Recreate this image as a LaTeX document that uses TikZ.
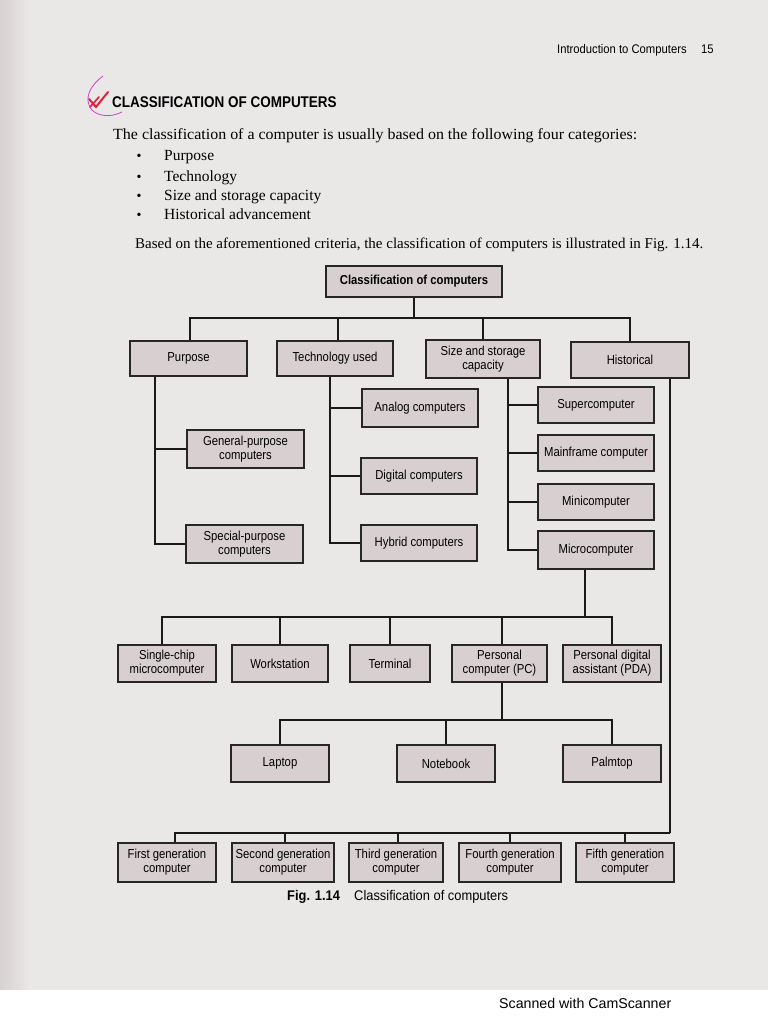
\documentclass[tikz,border=0pt]{standalone}
\usepackage{fontspec}
\setmainfont{Liberation Serif}
\newfontfamily\introfont[FakeStretch=1.03]{Liberation Serif}
\newfontfamily\boxfont[FakeStretch=0.87]{Liberation Sans}
\newfontfamily\hdrfont[FakeStretch=0.9]{Liberation Sans}
\newfontfamily\capfont[FakeStretch=0.92]{Liberation Sans}
\newfontfamily\plainsans{Liberation Sans}
\definecolor{pagebg}{HTML}{EAE7E7}
\definecolor{edgebg}{HTML}{D8D2D2}
\definecolor{boxgray}{HTML}{D8D0D0}
\definecolor{inkred}{HTML}{E0203A}
\definecolor{inkpink}{HTML}{D040C8}
\tikzset{
  cbox/.style={draw=black!85, fill=boxgray, line width=1.6pt, align=center, inner sep=1pt,
    font=\boxfont\fontsize{13}{14}\selectfont},
  conn/.style={draw=black!90, line width=1.5pt},
}
\begin{document}
\begin{tikzpicture}[x=1pt,y=-1pt]
\useasboundingbox (0,0) rectangle (768,1024);
\fill[pagebg] (0,0) rectangle (768,990);
\shade[left color=edgebg, right color=pagebg] (0,0) rectangle (30,990);
\fill[white] (0,990) rectangle (768,1024);

% header
\node[anchor=base west, inner sep=0, font=\hdrfont\fontsize{12.5}{13}\selectfont] (hdr) at (557,54) {Introduction to Computers};
\node[anchor=base west, inner sep=0, font=\hdrfont\fontsize{12.5}{13}\selectfont] (pg) at (701,54) {15};
% title
\node[anchor=base west, inner sep=0, font=\boxfont\fontsize{15.5}{16}\selectfont\bfseries] (ttl) at (112,108) {CLASSIFICATION OF COMPUTERS};
\draw[inkred, line width=2pt, line cap=round] (89,99) -- (96,107) -- (108,92);
\draw[inkred, line width=1.6pt, line cap=round] (90,107) -- (99,97);
\draw[inkpink, line width=0.8pt] (103,76) .. controls (92,84) and (82,98) .. (92,110) .. controls (98,116) and (110,118) .. (122,112);
% body
\node[anchor=base west, inner sep=0, font=\introfont\fontsize{15.5}{17}\selectfont] (intro) at (113,140) {The classification of a computer is usually based on the following four categories:};
\foreach \yy/\tx [count=\i] in {161/Purpose, 182/Technology, 201/Size and storage capacity, 220/Historical advancement}{
  \node[anchor=base, inner sep=0, font=\fontsize{14}{16}\selectfont] (bul\i) at (139,\yy) {•};
  \node[anchor=base west, inner sep=0, font=\fontsize{15.5}{17}\selectfont] (item\i) at (164,\yy) {\tx};
}
\node[anchor=base west, inner sep=0, font=\fontsize{15}{17}\selectfont] (based) at (135,248) {Based on the aforementioned criteria, the classification of computers is illustrated in Fig. 1.14.};

% boxes
\node[cbox, minimum width=176pt, minimum height=31pt, font=\boxfont\fontsize{13}{14}\selectfont\bfseries] (root) at (414,281.5) {Classification of computers};
\node[cbox, minimum width=117pt, minimum height=35pt] (purpose) at (188.5,358.5) {Purpose};
\node[cbox, minimum width=116pt, minimum height=35pt] (tech) at (335,358.5) {Technology used};
\node[cbox, minimum width=114pt, minimum height=38pt] (size) at (483,359) {Size and storage\\capacity};
\node[cbox, minimum width=118pt, minimum height=36pt] (hist) at (630,360) {Historical};

\node[cbox, minimum width=117pt, minimum height=38pt] (gen) at (245.5,449) {General-purpose\\computers};
\node[cbox, minimum width=117pt, minimum height=38pt] (spec) at (244.5,544) {Special-purpose\\computers};

\node[cbox, minimum width=116pt, minimum height=38pt] (analog) at (420,408) {Analog computers};
\node[cbox, minimum width=116pt, minimum height=36pt] (digital) at (419,476) {Digital computers};
\node[cbox, minimum width=116pt, minimum height=36pt] (hybrid) at (419,543) {Hybrid computers};

\node[cbox, minimum width=116pt, minimum height=36pt] (super) at (596,405) {Supercomputer};
\node[cbox, minimum width=116pt, minimum height=36pt] (mainf) at (596,453) {Mainframe computer};
\node[cbox, minimum width=116pt, minimum height=36pt] (mini) at (596,502) {Minicomputer};
\node[cbox, minimum width=116pt, minimum height=38pt] (micro) at (596,550) {Microcomputer};

\node[cbox, minimum width=98pt, minimum height=37pt] (single) at (167,663.5) {Single-chip\\microcomputer};
\node[cbox, minimum width=96pt, minimum height=37pt] (work) at (280,663.5) {Workstation};
\node[cbox, minimum width=80pt, minimum height=37pt] (term) at (390,663.5) {Terminal};
\node[cbox, minimum width=95pt, minimum height=37pt] (pc) at (499.5,663.5) {Personal\\computer (PC)};
\node[cbox, minimum width=98pt, minimum height=37pt] (pda) at (612,663.5) {Personal digital\\assistant (PDA)};

\node[cbox, minimum width=98pt, minimum height=37pt] (laptop) at (280,763.5) {Laptop};
\node[cbox, minimum width=98pt, minimum height=37pt] (notebook) at (446,763.5) {Notebook};
\node[cbox, minimum width=98pt, minimum height=37pt] (palmtop) at (612,763.5) {Palmtop};

\node[cbox, minimum width=98pt, minimum height=39pt] (g1) at (167,862.5) {First generation\\computer};
\node[cbox, minimum width=102pt, minimum height=39pt] (g2) at (283,862.5) {Second generation\\computer};
\node[cbox, minimum width=94pt, minimum height=39pt] (g3) at (396,862.5) {Third generation\\computer};
\node[cbox, minimum width=102pt, minimum height=39pt] (g4) at (510,862.5) {Fourth generation\\computer};
\node[cbox, minimum width=98pt, minimum height=39pt] (g5) at (625,862.5) {Fifth generation\\computer};

% caption
\node[anchor=base west, inner sep=0, font=\capfont\fontsize{14}{15}\selectfont\bfseries] (capfig) at (287,900) {Fig. 1.14};
\node[anchor=base west, inner sep=0, font=\capfont\fontsize{14}{15}\selectfont] (cap) at (354,900) {Classification of computers};
% scanner mark
\node[anchor=base west, inner sep=0, font=\plainsans\fontsize{14.2}{15}\selectfont] (scan) at (499,1008) {Scanned with CamScanner};

% connectors
\coordinate (bus1) at (414,318);
\draw[conn] (root.south) -- (bus1);
\draw[conn] (bus1) -| ([xshift=1.5pt]purpose.north);
\draw[conn] (bus1) -| ([xshift=3pt]tech.north);
\draw[conn] (bus1) -| (size.north);
\draw[conn] (bus1) -| (hist.north);

\coordinate (pv) at (155,544);
\draw[conn] (purpose.south -| pv) -- (pv) -- (spec.west);
\draw[conn] (gen.west) -- (gen.west -| pv);

\coordinate (tv) at (330,543);
\draw[conn] (tech.south -| tv) -- (tv) -- (hybrid.west);
\draw[conn] (analog.west) -- (analog.west -| tv);
\draw[conn] (digital.west) -- (digital.west -| tv);

\coordinate (sv) at (508,550);
\draw[conn] (size.south -| sv) -- (sv) -- (micro.west);
\draw[conn] (super.west) -- (super.west -| sv);
\draw[conn] (mainf.west) -- (mainf.west -| sv);
\draw[conn] (mini.west) -- (mini.west -| sv);

\coordinate (mv) at (585,617);
\draw[conn] (micro.south -| mv) -- (mv);
\draw[conn] (mv) -| ([xshift=-5pt]single.north);
\draw[conn] (mv) -| (work.north);
\draw[conn] (mv) -| (term.north);
\draw[conn] (mv) -| ([xshift=2.5pt]pc.north);
\draw[conn] (mv) -| (pda.north);

\coordinate (pcv) at (502,720);
\draw[conn] (pc.south -| pcv) -- (pcv);
\draw[conn] (pcv) -| (laptop.north);
\draw[conn] (pcv) -| (notebook.north);
\draw[conn] (pcv) -| (palmtop.north);

\coordinate (hv) at (670,833);
\draw[conn] (hist.south -| hv) -- (hv);
\draw[conn] (hv) -| ([xshift=8pt]g1.north);
\draw[conn] (hv) -| ([xshift=2pt]g2.north);
\draw[conn] (hv) -| ([xshift=2pt]g3.north);
\draw[conn] (hv) -| (g4.north);
\draw[conn] (hv) -| (g5.north);
\end{tikzpicture}
\end{document}
